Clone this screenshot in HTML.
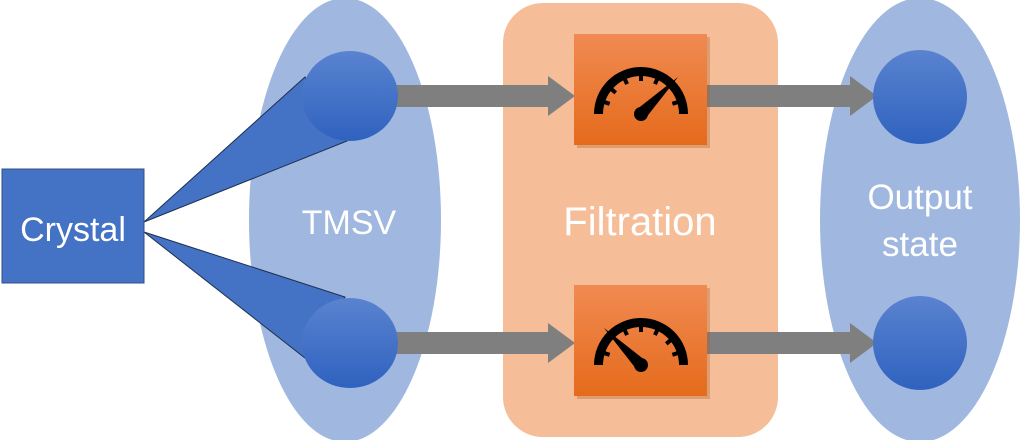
<!DOCTYPE html>
<html><head><style>body{margin:0;background:#fff}svg{display:block}</style></head><body>
<svg width="1024" height="440" viewBox="0 0 1024 440" xmlns="http://www.w3.org/2000/svg" font-family="Liberation Sans, sans-serif">
<defs>
<linearGradient id="cg" x1="0" y1="0" x2="0" y2="1"><stop offset="0" stop-color="#5a83d0"/><stop offset="1" stop-color="#2f62bf"/></linearGradient>
<linearGradient id="og" x1="0" y1="0" x2="0" y2="1"><stop offset="0" stop-color="#f08a52"/><stop offset="1" stop-color="#e56b1c"/></linearGradient>
</defs>
<ellipse cx="345" cy="220" rx="96" ry="222" fill="#a0b7e0"/>
<rect x="503" y="3" width="275" height="434" rx="40" fill="#f5bd98"/>
<ellipse cx="920" cy="220" rx="100" ry="222" fill="#a0b7e0"/>
<polygon points="144,222 305,77 347,141" fill="#4472c4" stroke="#1f2f50" stroke-width="1"/>
<polygon points="144,232 345,297 305,358" fill="#4472c4" stroke="#1f2f50" stroke-width="1"/>
<rect x="2" y="169" width="142" height="114" fill="#4472c4" stroke="#2f4f8a" stroke-width="1"/>
<text x="73" y="241" font-size="34" fill="#fff" text-anchor="middle">Crystal</text>
<text x="349" y="234" font-size="34" fill="#fff" text-anchor="middle">TMSV</text>
<text x="640" y="235" font-size="40" fill="#fff" text-anchor="middle">Filtration</text>
<text x="920" y="209" font-size="35" fill="#fff" text-anchor="middle">Output</text>
<text x="920" y="256" font-size="35" fill="#fff" text-anchor="middle">state</text>
<g fill="#7f7f7f">
<polygon points="395,85 548,85 548,76 575,96 548,116 548,107 395,107"/>
<polygon points="395,332 548,332 548,323 575,343 548,363 548,354 395,354"/>
<polygon points="706,85 850,85 850,76 877,96 850,116 850,107 706,107"/>
<polygon points="706,332 850,332 850,323 877,343 850,363 850,354 706,354"/>
</g>
<ellipse cx="350" cy="96" rx="48" ry="45" fill="url(#cg)"/>
<ellipse cx="350" cy="343" rx="48" ry="45" fill="url(#cg)"/>
<circle cx="920" cy="97" r="47" fill="url(#cg)"/>
<circle cx="920" cy="343" r="47" fill="url(#cg)"/>
<rect x="577" y="37" width="133" height="111" fill="#b0602e" opacity="0.35"/>
<rect x="574" y="34" width="133" height="111" fill="url(#og)"/>
<rect x="577" y="288" width="133" height="111" fill="#b0602e" opacity="0.35"/>
<rect x="574" y="285" width="133" height="111" fill="url(#og)"/>
<g transform="translate(641,114)">
<path d="M-47,0 A47,47 0 0 1 47,0 L38,0 A38,38 0 0 0 -38,0 Z" fill="#000"/>
<g stroke="#000" stroke-width="4">
<line x1="0" y1="-39" x2="0" y2="-33" transform="rotate(-72)"/>
<line x1="0" y1="-39" x2="0" y2="-33" transform="rotate(-50)"/>
<line x1="0" y1="-39" x2="0" y2="-33" transform="rotate(-25)"/>
<line x1="0" y1="-39" x2="0" y2="-33"/>
<line x1="0" y1="-39" x2="0" y2="-33" transform="rotate(25)"/>
<line x1="0" y1="-39" x2="0" y2="-33" transform="rotate(72)"/>
</g>
<polygon points="-5,-4 4,5 37,-37" fill="#000"/><circle cx="0" cy="0" r="7" fill="#000"/>
</g>
<g transform="translate(641,365)">
<path d="M-47,0 A47,47 0 0 1 47,0 L38,0 A38,38 0 0 0 -38,0 Z" fill="#000"/>
<g stroke="#000" stroke-width="4">
<line x1="0" y1="-39" x2="0" y2="-33" transform="rotate(-72)"/>
<line x1="0" y1="-39" x2="0" y2="-33" transform="rotate(-25)"/>
<line x1="0" y1="-39" x2="0" y2="-33"/>
<line x1="0" y1="-39" x2="0" y2="-33" transform="rotate(25)"/>
<line x1="0" y1="-39" x2="0" y2="-33" transform="rotate(50)"/>
<line x1="0" y1="-39" x2="0" y2="-33" transform="rotate(72)"/>
</g>
<polygon points="5,-4 -4,5 -37,-37" fill="#000"/><circle cx="0" cy="0" r="7" fill="#000"/>
</g>
</svg>
</body></html>
